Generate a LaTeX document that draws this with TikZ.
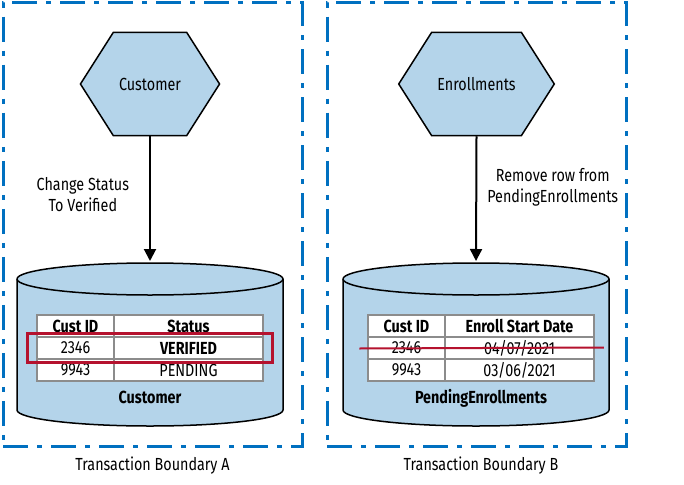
\documentclass[tikz,border=0pt]{standalone}
\usepackage{fontspec}
\setmainfont{Fira Sans}[FakeStretch=0.82]
\usetikzlibrary{arrows.meta}
\usetikzlibrary{shapes.symbols}
\usetikzlibrary{matrix,fit,positioning}

\definecolor{dbblue}{RGB}{180,212,234}
\definecolor{boundblue}{RGB}{0,112,192}
\definecolor{markred}{RGB}{181,18,46}
\definecolor{cellgray}{RGB}{140,140,140}

\tikzset{
	boundary/.style={draw=boundblue,line width=3pt,dash pattern=on 25pt off 9pt on 5pt off 9pt},
	service/.style={signal,signal to=east and west,signal pointer angle=115,draw,fill=dbblue,
		line width=1.5pt,minimum width=133pt,minimum height=103pt},
	dbshape/.style={draw,fill=dbblue,line width=1.5pt},
	datatable/.style={matrix of nodes,row sep=-1.5pt,column sep=-1.5pt,
		nodes={draw=cellgray,fill=white,line width=1.5pt,anchor=center,inner sep=0pt,minimum height=22pt},
		column 1/.style={nodes={minimum width=77pt}},
		column 2/.style={nodes={minimum width=149pt}},
		row 1/.style={nodes={font=\bfseries}}},
	flow/.style={-{Triangle[length=12pt,width=12pt]},line width=2pt,shorten >=2pt},
	markbox/.style={draw=markred,line width=3pt,inner xsep=9pt,inner ysep=3pt},
}

\begin{document}
\fontsize{17.5}{21}\selectfont
\begin{tikzpicture}[x=1pt,y=-1pt]
	\useasboundingbox (0,0) rectangle (684,484);
	
	% boundaries
	\node[boundary,minimum width=299pt,minimum height=444pt] (bndA) at (152.5,224.75) {};
	\node[boundary,minimum width=299pt,minimum height=444pt] (bndB) at (476.5,224.75) {};
	\node[anchor=base] (capA) at (152.5,470) {Transaction Boundary A};
	\node[anchor=base] (capB) at (481,470) {Transaction Boundary B};
	
	% services
	\node[service] (custSvc) at (150,84) {Customer};
	\node[service] (enrSvc) at (476.5,84) {Enrollments};
	
	% databases
	\foreach \cx/\dbname in {150/custDb,476/enrDb}{
		\draw[dbshape] (\cx-133,279) -- (\cx-133,410)
			arc[start angle=180,end angle=360,x radius=133pt,y radius=16pt] -- (\cx+133,279)
			arc[start angle=0,end angle=180,x radius=133pt,y radius=16pt] -- cycle;
		\draw[dbshape,fill=none] (\cx-133,279) arc[start angle=180,end angle=360,x radius=133pt,y radius=16pt];
		\coordinate (\dbname) at (\cx,263);
	}
	
	\matrix (tabA) at (150,348) [datatable]
	{
		Cust ID & Status \\
		2346 & |[font=\bfseries]| VERIFIED \\
		9943 & PENDING \\
	};
	\matrix (tabB) at (481,348) [datatable]
	{
		Cust ID & Enroll Start Date \\
		2346 & 04/07/2021 \\
		9943 & 03/06/2021 \\
	};
	\node[font=\bfseries,anchor=base] (nameA) at (150,403) {Customer};
	\node[font=\bfseries,anchor=base] (nameB) at (481,403) {PendingEnrollments};
	
	\node[markbox,fit=(tabA-2-1)(tabA-2-2)] (verA) {};
	\draw[draw=markred,line width=2pt] ([xshift=-8pt,yshift=-0.5pt]tabB-2-1.west) -- ([xshift=9pt,yshift=0.5pt]tabB-2-2.east);
	
	\draw[flow] (custSvc.south) -- node[pos=0.457,left=20pt,align=center,inner sep=0pt] {Change Status\\To Verified} (custDb);
	\draw[flow] (enrSvc.south) -- node[pos=0.40,right=10pt,align=center,inner sep=0pt] {Remove row from\\PendingEnrollments} (enrDb);
\end{tikzpicture}
\end{document}
